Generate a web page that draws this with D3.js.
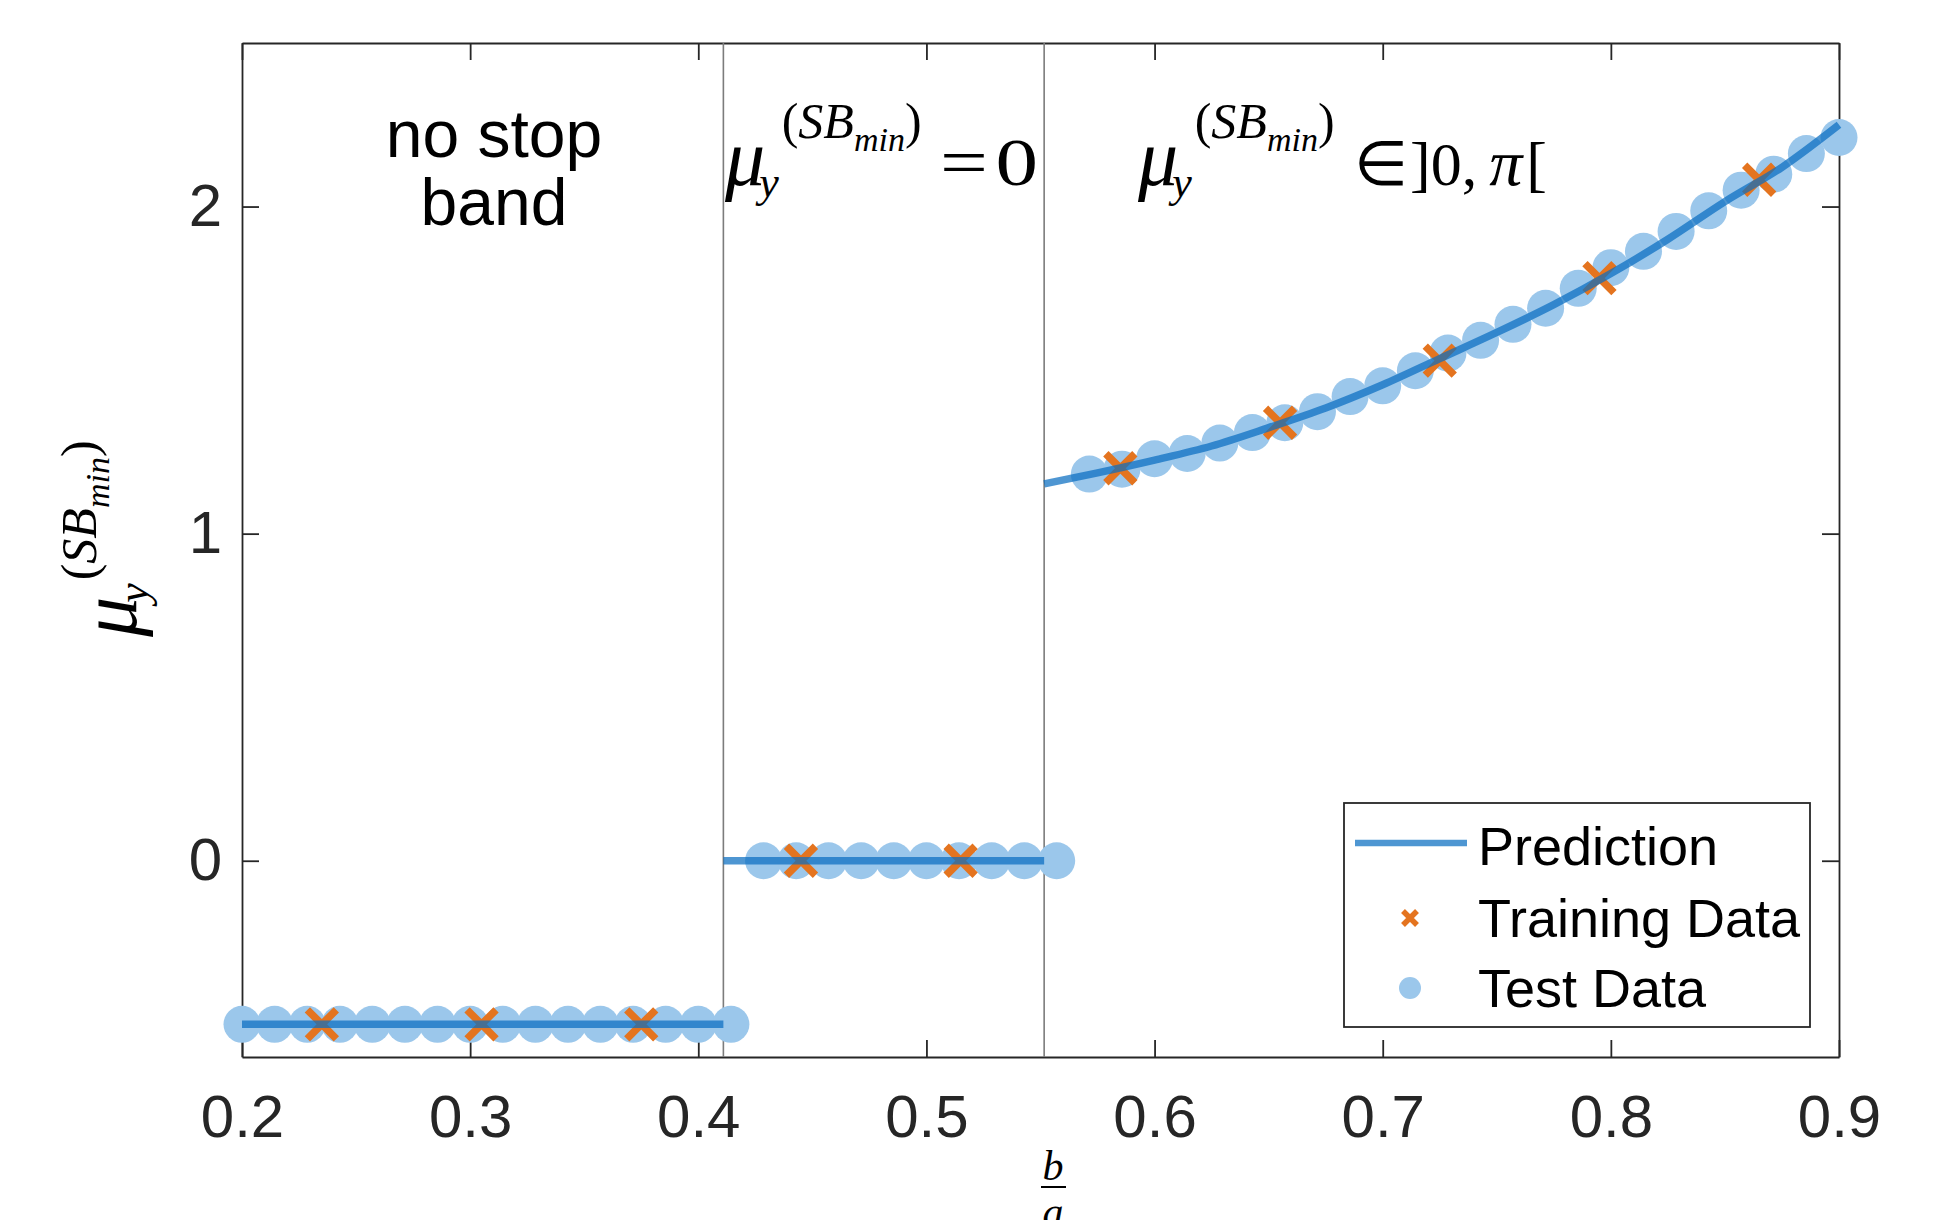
<!DOCTYPE html>
<html>
<head>
<meta charset="utf-8">
<script src="https://cdn.jsdelivr.net/npm/d3@7"></script>
<style>
  html, body { margin: 0; padding: 0; background: #fff; }
  svg { display: block; }
</style>
</head>
<body>
<div id="chart"></div>
<script>
// Stop-band prediction chart (b/a vs mu_y)
(function () {
  "use strict";

  // --- Data ---
  const xTicks = [0.2, 0.3, 0.4, 0.5, 0.6, 0.7, 0.8, 0.9];
  const yTicks = [0, 1, 2];
  const regionBounds = [0.411, 0.5516];

  const testX = [
    0.2000, 0.2143, 0.2286, 0.2429, 0.2571, 0.2714, 0.2857, 0.3000, 0.3143, 0.3286,
    0.3429, 0.3571, 0.3714, 0.3857, 0.4000, 0.4143, 0.4286, 0.4429, 0.4571, 0.4714,
    0.4857, 0.5000, 0.5143, 0.5286, 0.5429, 0.5571, 0.5714, 0.5857, 0.6000, 0.6143,
    0.6286, 0.6429, 0.6571, 0.6714, 0.6857, 0.7000, 0.7143, 0.7286, 0.7429, 0.7571,
    0.7714, 0.7857, 0.8000, 0.8143, 0.8286, 0.8429, 0.8571, 0.8714, 0.8857, 0.9000,
  ];
  const testY = [
    -0.5, -0.5, -0.5, -0.5, -0.5, -0.5, -0.5, -0.5, -0.5, -0.5,
    -0.5, -0.5, -0.5, -0.5, -0.5, -0.5, 0, 0, 0, 0,
    0, 0, 0, 0, 0, 0, 1.182, 1.197, 1.229, 1.245,
    1.277, 1.309, 1.339, 1.373, 1.419, 1.452, 1.498, 1.552, 1.591, 1.640,
    1.689, 1.750, 1.813, 1.863, 1.924, 1.987, 2.050, 2.099, 2.162, 2.211,
  ];

  const trainX = [0.235, 0.305, 0.375, 0.445, 0.515, 0.585, 0.655, 0.725, 0.795, 0.865];
  const trainY = [-0.5, -0.5, -0.5, 0, 0, 1.200, 1.339, 1.529, 1.781, 2.082];

  const predNoBandX = [0.2, 0.411];
  const predNoBandY = [-0.5, -0.5];
  const predZeroX = [0.411, 0.5516];
  const predZeroY = [0, 0];
  const predBandX = [0.5516, 0.575, 0.6, 0.625, 0.65, 0.675, 0.7, 0.725,
                     0.75, 0.775, 0.8, 0.825, 0.85, 0.875, 0.9];
  const predBandY = [1.152, 1.186, 1.225, 1.268, 1.324, 1.384, 1.455, 1.535,
                     1.615, 1.700, 1.795, 1.900, 2.015, 2.120, 2.250];

  const legendLabels = ["Prediction", "Training Data", "Test Data"];

  // --- Style ---
  const W = 1938, H = 1220;
  const plot = { left: 242, right: 1839, top: 43, bottom: 1057 };
  const colors = {
    axis: "#262626",
    sep: "#7c7c7c",
    line: "#0a6ec0",
    test: "#9bc7eb",
    train: "#e4741f",
  };
  const sans = "'Liberation Sans', Arial, Helvetica, sans-serif";
  const serif = "'Liberation Serif', 'Times New Roman', serif";

  const svg = d3.select("#chart").append("svg")
    .attr("width", W).attr("height", H)
    .attr("viewBox", [0, 0, W, H]);

  const x = d3.scaleLinear().domain([0.2, 0.9]).range([plot.left, plot.right]);
  const y = d3.scaleLinear().domain([-0.6, 2.5]).range([plot.bottom, plot.top]);

  // --- Axes (box with inward ticks) ---
  const tick = 17;
  const styleAxis = (g) => {
    g.selectAll("path.domain").attr("stroke", colors.axis).attr("stroke-width", 1.8);
    g.selectAll(".tick line").attr("stroke", colors.axis).attr("stroke-width", 1.8);
    g.selectAll(".tick text").attr("fill", colors.axis)
      .attr("font-family", sans).attr("font-size", 60);
  };

  svg.append("g")
    .attr("transform", `translate(0,${plot.bottom})`)
    .call(d3.axisBottom(x).tickValues(xTicks).tickFormat(d3.format(".1f"))
      .tickSize(-tick).tickSizeOuter(0).tickPadding(37))
    .call(styleAxis);

  svg.append("g")
    .attr("transform", `translate(0,${plot.top})`)
    .call(d3.axisTop(x).tickValues(xTicks).tickFormat("")
      .tickSize(-tick).tickSizeOuter(0))
    .call(styleAxis);

  svg.append("g")
    .attr("transform", `translate(${plot.left},0)`)
    .call(d3.axisLeft(y).tickValues(yTicks).tickFormat(d3.format("d"))
      .tickSize(-tick).tickSizeOuter(0).tickPadding(20))
    .call(styleAxis);

  svg.append("g")
    .attr("transform", `translate(${plot.right},0)`)
    .call(d3.axisRight(y).tickValues(yTicks).tickFormat("")
      .tickSize(-tick).tickSizeOuter(0))
    .call(styleAxis);

  // --- Region separators ---
  svg.append("g")
    .selectAll("line")
    .data(regionBounds)
    .join("line")
    .attr("x1", (d) => x(d)).attr("x2", (d) => x(d))
    .attr("y1", plot.top).attr("y2", plot.bottom)
    .attr("stroke", colors.sep)
    .attr("stroke-width", 1.6);

  // --- Test data (circles) ---
  svg.append("g")
    .selectAll("circle")
    .data(d3.zip(testX, testY))
    .join("circle")
    .attr("cx", (d) => x(d[0]))
    .attr("cy", (d) => y(d[1]))
    .attr("r", 18.5)
    .attr("fill", colors.test);

  // --- Training data (crosses) ---
  const crossPath = (s) => `M${-s},${-s}L${s},${s}M${-s},${s}L${s},${-s}`;
  svg.append("g")
    .selectAll("path")
    .data(d3.zip(trainX, trainY))
    .join("path")
    .attr("transform", (d) => `translate(${x(d[0])},${y(d[1])})`)
    .attr("d", crossPath(14.5))
    .attr("stroke", colors.train)
    .attr("stroke-width", 7.5)
    .attr("fill", "none");

  // --- Prediction ---
  const line = d3.line()
    .x((d) => x(d[0]))
    .y((d) => y(d[1]))
    .curve(d3.curveMonotoneX);

  const predSegments = [
    d3.zip(predNoBandX, predNoBandY),
    d3.zip(predZeroX, predZeroY),
    d3.zip(predBandX, predBandY),
  ];
  svg.append("g")
    .selectAll("path")
    .data(predSegments)
    .join("path")
    .attr("d", line)
    .attr("fill", "none")
    .attr("stroke", colors.line)
    .attr("stroke-opacity", 0.72)
    .attr("stroke-width", 7.5);

  // --- Math label helper: mu_y^{(SB_min)} ---
  function muLabel(g, supDy) {
    const t = g.append("text")
      .attr("font-family", serif)
      .attr("fill", "#000");
    t.append("tspan").attr("font-size", 80).attr("font-style", "italic").text("\u03bc");
    t.append("tspan").attr("font-size", 44).attr("font-style", "italic")
      .attr("dx", -6).attr("dy", 12).text("y");
    t.append("tspan").attr("font-size", 50).attr("dx", 3).attr("dy", supDy - 12).text("(");
    t.append("tspan").attr("font-size", 50).attr("font-style", "italic").text("SB");
    t.append("tspan").attr("font-size", 34).attr("font-style", "italic")
      .attr("dy", 13).text("min");
    t.append("tspan").attr("font-size", 50).attr("dy", -13).text(")");
    return t;
  }

  // --- Region annotations ---
  const noBand = svg.append("text")
    .attr("font-family", sans).attr("font-size", 66)
    .attr("text-anchor", "middle").attr("fill", "#000");
  noBand.append("tspan").attr("x", 494).attr("y", 157).text("no stop");
  noBand.append("tspan").attr("x", 494).attr("y", 225).text("band");

  muLabel(svg.append("g").attr("transform", "translate(725,185)"), -47);
  const zeroTail = svg.append("text")
    .attr("transform", "translate(940,185) scale(1.25,1)")
    .attr("font-family", serif).attr("font-size", 68).attr("fill", "#000");
  zeroTail.append("tspan").text("=");
  zeroTail.append("tspan").attr("dx", 6).text("0");

  muLabel(svg.append("g").attr("transform", "translate(1138,185)"), -47);
  const bandTail = svg.append("text")
    .attr("transform", "translate(1354,185)")
    .attr("font-family", serif).attr("font-size", 62).attr("fill", "#000");
  bandTail.append("tspan").text("\u2208");
  bandTail.append("tspan").attr("dx", 2).text("]0,");
  bandTail.append("tspan").attr("dx", 12).attr("font-size", 66)
    .attr("font-style", "italic").text("\u03c0");
  bandTail.append("tspan").attr("dx", 4).text("[");

  // --- Y axis label (rotated) ---
  muLabel(svg.append("g").attr("transform", "translate(136,637) rotate(-90)"), -40);

  // --- X axis label: fraction b/a ---
  const xl = svg.append("g").attr("transform", "translate(1053,0)");
  xl.append("text").attr("x", 0).attr("y", 1180)
    .attr("text-anchor", "middle").attr("font-family", serif)
    .attr("font-style", "italic").attr("font-size", 42).text("b");
  xl.append("line").attr("x1", -12).attr("x2", 13).attr("y1", 1187).attr("y2", 1187)
    .attr("stroke", "#000").attr("stroke-width", 2);
  xl.append("text").attr("x", 0).attr("y", 1226)
    .attr("text-anchor", "middle").attr("font-family", serif)
    .attr("font-style", "italic").attr("font-size", 42).text("a");

  // --- Legend ---
  const lg = svg.append("g");
  lg.append("rect")
    .attr("x", 1344).attr("y", 803).attr("width", 466).attr("height", 224)
    .attr("fill", "#fff").attr("stroke", colors.axis).attr("stroke-width", 1.8);

  const rowY = [865, 937, 1007];
  lg.append("line")
    .attr("x1", 1355).attr("x2", 1467).attr("y1", 843).attr("y2", 843)
    .attr("stroke", colors.line).attr("stroke-opacity", 0.72).attr("stroke-width", 6.5);
  lg.append("path")
    .attr("transform", "translate(1410,918)")
    .attr("d", crossPath(7))
    .attr("stroke", colors.train).attr("stroke-width", 5.5).attr("fill", "none");
  lg.append("circle")
    .attr("cx", 1410).attr("cy", 988).attr("r", 11)
    .attr("fill", colors.test);

  lg.selectAll("text.lbl")
    .data(legendLabels)
    .join("text")
    .attr("class", "lbl")
    .attr("x", 1478)
    .attr("y", (d, i) => rowY[i])
    .attr("font-family", sans).attr("font-size", 54)
    .attr("fill", "#000")
    .text((d) => d);
})();
</script>
</body>
</html>
